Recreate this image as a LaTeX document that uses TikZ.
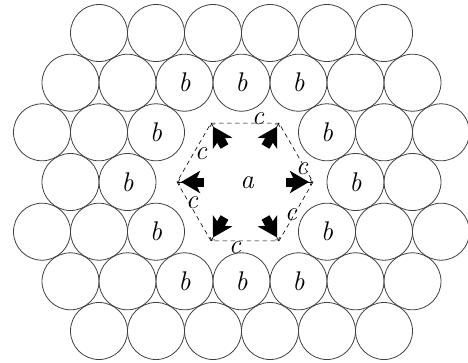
\documentclass[tikz,border=0pt]{standalone}
\usetikzlibrary{arrows.meta}
\begin{document}
\begin{tikzpicture}[x=1pt,y=-1pt,
  ball/.style={circle,draw=black!75,line width=0.8pt,minimum size=57pt,
    inner sep=0pt,font=\fontsize{27}{31}\selectfont\itshape},
  lab/.style={inner sep=0pt,font=\fontsize{27}{31}\selectfont\itshape},
  edge/.style={draw=black,line width=0.6pt,dash pattern=on 4.5pt off 3.5pt},
  fat/.style={line width=9pt,-{Stealth[length=19pt,width=22pt,inset=5pt]}},
  thintip/.style={line width=0.6pt,-{To[length=3pt,width=6pt]}}]
\useasboundingbox (0,0) rectangle (468,362);

% row 1 and row 7
\foreach \k in {0,...,5} {
  \node[ball] (r1-\k) at (99+57*\k,33) {};
  \node[ball] (r7-\k) at (99+57*\k,331) {};
}
% rows 2 and 6
\foreach \k in {0,1,5,6} {
  \node[ball] (r2-\k) at (70.5+57*\k,82.7) {};
  \node[ball] (r6-\k) at (70.5+57*\k,281.3) {};
}
\foreach \k in {2,3,4} {
  \node[ball] (r2-\k) at (70.5+57*\k,82.7) {b};
  \node[ball] (r6-\k) at (70.5+57*\k,281.3) {b};
}
% rows 3 and 5
\foreach \k in {0,1,6,7} {
  \node[ball] (r3-\k) at (42+57*\k,132.3) {};
  \node[ball] (r5-\k) at (42+57*\k,231.7) {};
}
\foreach \k in {2,5} {
  \node[ball] (r3-\k) at (42+57*\k,132.3) {b};
  \node[ball] (r5-\k) at (42+57*\k,231.7) {b};
}
% row 4
\foreach \k in {0,6} \node[ball] (r4-\k) at (70.5+57*\k,182) {};
\foreach \k in {1,5} \node[ball] (r4-\k) at (70.5+57*\k,182) {b};

% central site, dashed hexagon and outward arrows
\begin{scope}[shift={(245,182)}]
  \node[lab] (a) at (2,1) {a};
  \foreach \i in {0,...,5} {
    \coordinate (v\i) at (\i*60:68);
    \coordinate (s\i) at (\i*60:41);
    \coordinate (e\i) at (\i*60:64);
    \coordinate (t\i) at (\i*60:60);
  }
  \draw[edge] (v0) -- (v1) -- (v2) -- (v3) -- (v4) -- (v5) -- cycle;
  \foreach \i in {0,...,5} {
    \draw[fat] (s\i) -- (e\i);
    \draw[thintip] (t\i) -- (v\i);
  }
\end{scope}

% edge labels
\node[lab] (c1) at (235,248) {c};
\node[lab] (c2) at (258,119) {c};
\node[lab] (c3) at (201,154) {c};
\node[lab] (c4) at (302,169) {c};
\node[lab] (c5) at (192,203) {c};
\node[lab] (c6) at (291,215) {c};
\end{tikzpicture}
\end{document}
